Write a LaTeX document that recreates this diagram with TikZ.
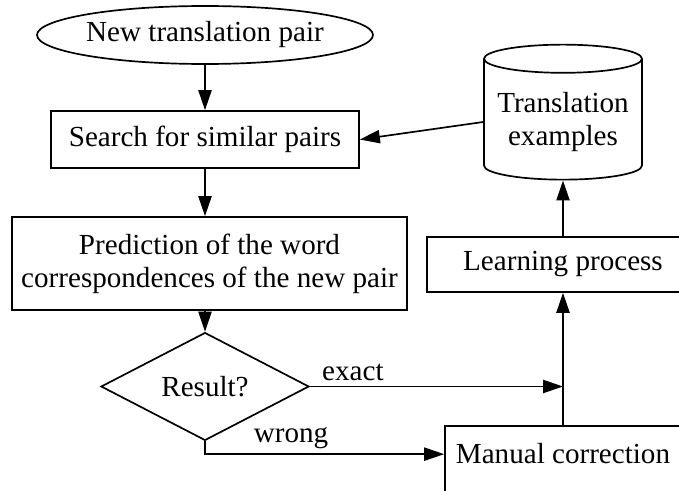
\documentclass[tikz,border=0pt]{standalone}
\usepackage{fontspec}
\setmainfont{Liberation Serif}
\usepackage{tikz}
\usetikzlibrary{shapes.geometric, arrows.meta, positioning, calc}

\begin{document}
\begin{tikzpicture}[
        font=\fontsize{20.7}{23.5}\selectfont,
        >={Triangle[length=0.5cm, width=0.33cm]},
        line width=1.2pt,
        % Define the style for plain process boxes
        procbox/.style={
            rectangle, draw, inner sep=0pt, align=center
        },
        startnode/.style={
            ellipse, draw, inner sep=0pt,
            minimum width=7.9cm, minimum height=1.45cm
        },
        decision/.style={
            diamond, draw, inner sep=0pt,
            minimum width=5.2cm, minimum height=1.825cm
        },
        store/.style={
            cylinder, shape border rotate=90, draw, aspect=0.2,
            minimum width=3.95cm, minimum height=3.375cm, align=center
        }
    ]

        % fixed page size (the scan is cut on the right and at the bottom)
        \useasboundingbox (0,0) rectangle (16.975,-12.275);
        \clip (0,0) rectangle (16.975,-12.275);

        % ==========================
        % LEFT COLUMN
        % ==========================
        \node[startnode] (newpair) at (5.125, -0.875) {New translation pair};
        \node[procbox, minimum width=7.7cm, minimum height=1.425cm] (search) at (5.125, -3.4875) {Search for similar pairs};
        \node[procbox, minimum width=9.875cm, minimum height=2.325cm] (predict) at (5.2375, -6.5875) {Prediction of the word\\correspondences of the new pair};
        \node[decision] (result) at (5.125, -9.6625) {Result?};

        % ==========================
        % RIGHT COLUMN
        % ==========================
        \node[store] (examples) at (14.075, -3.05) {Translation\\examples};
        \node[procbox, minimum width=6.8cm, minimum height=1.375cm] (learning) at (14.075, -6.6125) {Learning process};
        \node[procbox, anchor=base, minimum width=5.9cm, text height=0.925cm, text depth=1cm] (manual) at (14.075, -11.575) {Manual correction};

        % ==========================
        % CONNECTIONS
        % ==========================
        \draw[->] (newpair) -- (search);
        \draw[->] (search.south) -- (search.south |- predict.north);
        \draw[->] (result.north |- predict.south) -- (result.north);
        \draw[->] (examples.west) -- (search.east);

        \draw[->] (result.east) --
            node[above, pos=0.17] {exact} (result.east -| learning.south);
        \draw[->] (result.south) |-
            node[above, pos=0.68] {wrong} ([yshift=-0.725cm]manual.north west);

        \draw[->] (manual) -- (learning);
        \draw[->] (learning) -- (examples);

    \end{tikzpicture}
\end{document}
